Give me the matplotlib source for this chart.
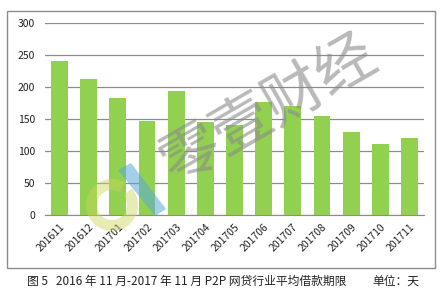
import matplotlib
matplotlib.use("Agg")
import matplotlib.pyplot as plt
from matplotlib.patches import Rectangle, Wedge, Polygon

plt.rcParams['font.family'] = ['Noto Sans CJK SC', 'DejaVu Sans']

months = ["201611", "201612", "201701", "201702", "201703", "201704", "201705",
          "201706", "201707", "201708", "201709", "201710", "201711"]
avg_days = [241, 213, 183, 147, 193, 145, 141, 176, 170, 154, 130, 111, 121]
y_ticks = [0, 50, 100, 150, 200, 250, 300]
caption_left = "图 5   2016 年 11 月-2017 年 11 月 P2P 网贷行业平均借款期限"
caption_right = "单位：天"

W, H = 443, 290
fig = plt.figure(figsize=(W / 100, H / 100), dpi=100)
fig.patch.set_facecolor("white")

def px(x, y):
    return x / W, 1 - y / H

# outer frame
fig.add_artist(Rectangle(px(7, 268), 428 / W, 257 / H, transform=fig.transFigure,
                         fill=False, edgecolor="#8c8c8c", linewidth=1.0))

ax = fig.add_axes([45 / W, 1 - 215 / H, 379 / W, 192 / H])
x = range(len(months))
ax.bar(x, avg_days, width=0.58, color="#92D050", zorder=2)
ax.set_xlim(-0.5, len(months) - 0.5)
ax.set_ylim(0, 300)
ax.set_yticks(y_ticks)
ax.set_xticks(list(x))
ax.set_xticklabels(months, rotation=45, ha="right", va="top", rotation_mode="anchor")
ax.yaxis.grid(True, color="#8c8c8c", linewidth=0.9, zorder=0)
for s in ["top", "right", "left"]:
    ax.spines[s].set_visible(False)
ax.spines["bottom"].set_color("#8c8c8c")
ax.tick_params(axis="both", length=0, labelsize=7.5, colors="#222222")
ax.tick_params(axis="y", pad=7)
ax.tick_params(axis="x", pad=5)

# watermark logo
fig.add_artist(Wedge((112, H - 205), 26, 60, 400, width=11, transform=None,
                     facecolor="#c9d65a", alpha=0.45, edgecolor="none", zorder=5))
fig.add_artist(Polygon([(118, H - 170), (131, H - 163), (166, H - 209), (155, H - 216)],
                       closed=True, transform=None, facecolor="#5aa8dc", alpha=0.55,
                       edgecolor="none", zorder=5))
fig.text(270 / W, 1 - 110 / H, "零壹财经", fontsize=43, color="#8a8a8a", alpha=0.6,
         rotation=30, ha="center", va="center", zorder=6)

fig.text(27 / W, 1 - 281 / H, caption_left, fontsize=8.5, color="#222222", ha="left", va="center")
fig.text(419 / W, 1 - 281 / H, caption_right, fontsize=8.5, color="#222222", ha="right", va="center")

fig.savefig("out.png", dpi=100, facecolor="white")
